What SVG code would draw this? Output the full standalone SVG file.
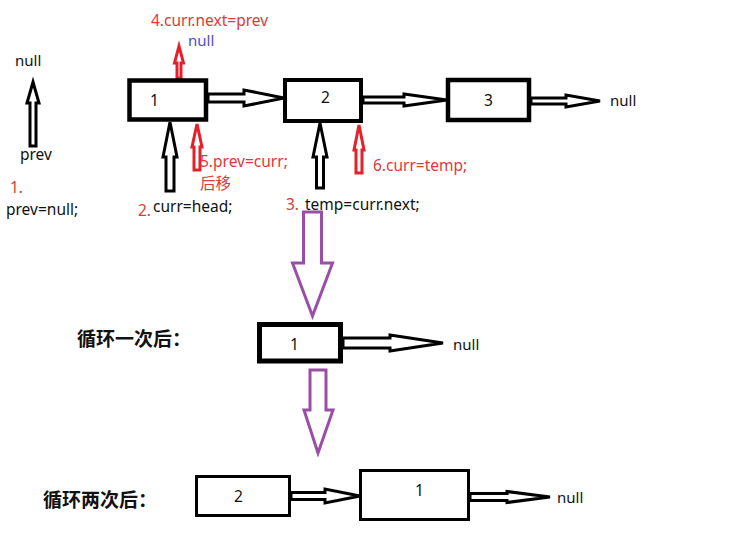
<svg xmlns="http://www.w3.org/2000/svg" width="734" height="539" viewBox="0 0 734 539">
<style>
text{font-family:"Noto Sans","Noto Sans CJK SC",sans-serif;font-size:15.5px;fill:#111}
.r{fill:#dd3a3a}
.b{fill:#4d4dc4}
.n{font-size:15px}
.cn{font-size:19px;font-weight:bold;fill:#111}
.box{fill:#fff;stroke:#000}
.ab{fill:#fff;stroke:#000;stroke-width:3;stroke-linejoin:miter}
.ar{fill:#fff;stroke:#e5202a;stroke-width:3}
.ap{fill:#fff;stroke:#9a4ea6;stroke-width:3}
</style>
<rect width="734" height="539" fill="#fff"/>
<g id="connectors">
<path class="ab" d="M208,94 L244,94 L244,90 L284,98 L244,106 L244,102 L208,102 Z"/>
<path class="ab" d="M363,97 L404,97 L404,94 L447,100 L404,106 L404,103 L363,103 Z"/>
<path class="ab" d="M531,98 L566,98 L566,95 L600,101 L566,107 L566,104 L531,104 Z"/>
<path class="ab" d="M30,146 L30,103 L27,103 L33,82 L39,103 L36,103 L36,146 Z"/>
<path class="ab" d="M166,191 L166,157 L163,157 L170,122 L177,157 L174,157 L174,191 Z"/>
<path class="ab" d="M316.5,188 L316.5,157 L313,157 L320,123 L327,157 L323.5,157 L323.5,188 Z"/>
<path class="ar" d="M177,78 L177,63 L174.5,63 L179,46 L183.5,63 L181,63 L181,78 Z"/>
<path class="ar" d="M194,170 L194,147 L192,147 L197,124 L202,147 L200,147 L200,170 Z"/>
<path class="ar" d="M356,173 L356,150 L354,150 L359,125 L364,150 L362,150 L362,173 Z"/>
<path class="ap" d="M303.5,212 L321.5,212 L321.5,263 L332.5,263 L312.5,316 L292.5,263 L303.5,263 Z"/>
<path class="ap" d="M310,370 L326,370 L326,410 L333,410 L318,453 L304,410 L310,410 Z"/>
<path class="ab" d="M343,338 L390,338 L390,335 L443,343 L390,351 L390,348 L343,348 Z"/>
<path class="ab" d="M291,492.5 L325,492.5 L325,489 L360,496 L325,503 L325,499.5 L291,499.5 Z"/>
<path class="ab" d="M470,493.5 L507,493.5 L507,491.5 L550,497 L507,502.5 L507,500.5 L470,500.5 Z"/>
</g>
<g id="node-prev-null"><text x="15" y="66" class="n">null</text></g>
<g id="label-prev"><text x="20" y="160">prev</text></g>
<g id="label-step1"><text x="10" y="193" class="r">1.</text><text x="6" y="215">prev=null;</text></g>
<g id="node1"><rect class="box" x="129.5" y="80.5" width="76.5" height="39" stroke-width="4.5"/><text x="150" y="106">1</text></g>
<g id="node2"><rect class="box" x="285" y="80" width="76" height="41" stroke-width="4"/><text x="321" y="103">2</text></g>
<g id="node3"><rect class="box" x="448" y="80" width="81" height="40" stroke-width="4.5"/><text x="484" y="106">3</text></g>
<g id="node-null-top"><text x="610" y="106" class="n">null</text></g>
<g id="label-step4"><text x="151" y="26" class="r">4.curr.next=prev</text><text x="188" y="46" class="b n">null</text></g>
<g id="label-step5"><text x="200" y="167" class="r">5.prev=curr;</text><text x="200" y="189" class="r" font-size="14.5">后移</text></g>
<g id="label-step2"><text x="138" y="216" class="r">2.</text><text x="153" y="212">curr=head;</text></g>
<g id="label-step6"><text x="373" y="171" class="r">6.curr=temp;</text></g>
<g id="label-step3"><text x="286" y="210" class="r">3.</text><text x="305" y="210">temp=curr.next;</text></g>
<g id="label-loop1"><text x="77" y="346" class="cn">循环一次后：</text></g>
<g id="node-loop1-1"><rect class="box" x="259.5" y="324.5" width="81" height="36.5" stroke-width="5"/><text x="290" y="350">1</text></g>
<g id="node-loop1-null"><text x="453" y="350" class="n">null</text></g>
<g id="label-loop2"><text x="43" y="507" class="cn">循环两次后：</text></g>
<g id="node-loop2-2"><rect class="box" x="196.5" y="476.5" width="93" height="39" stroke-width="3"/><text x="234" y="502">2</text></g>
<g id="node-loop2-1"><rect class="box" x="360.5" y="470.5" width="108" height="49" stroke-width="3"/><text x="415" y="496">1</text></g>
<g id="node-loop2-null"><text x="557" y="503" class="n">null</text></g>
</svg>
